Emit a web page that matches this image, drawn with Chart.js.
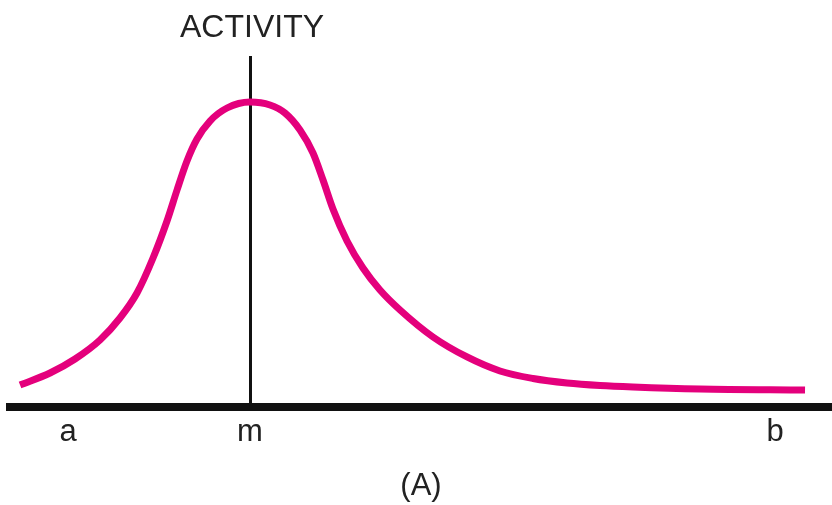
<!DOCTYPE html>
<html>
<head>
<meta charset="utf-8">
<script src="https://cdn.jsdelivr.net/npm/chart.js@4/dist/chart.umd.min.js"></script>
<style>
    html, body { margin: 0; padding: 0; background: #fff; }
    #wrap { width: 832px; height: 505px; position: relative; }
</style>
</head>
<body>
<div id="wrap"><canvas id="activityChart"></canvas></div>
<script>
// curve (x: 0..100 along the axis, y: 0..100 up the axis)
const activityX = [1.22, 4.87, 7.91, 10.95, 13.38, 15.45, 17.40, 19.10, 20.32, 21.53, 22.75, 24.33, 26.40, 29.20, 31.63, 33.45, 35.28, 36.86, 38.08, 39.29, 41.00, 42.94, 45.01, 47.45, 51.46, 55.60, 59.61, 63.63, 67.76, 71.78, 75.79, 83.94, 96.72]
const activityY = [6.29, 9.71, 13.71, 19.14, 25.43, 32.57, 42.57, 53.14, 62.00, 70.29, 76.57, 81.71, 85.43, 87.14, 86.29, 84.00, 79.14, 72.57, 64.86, 56.57, 47.43, 39.71, 33.43, 27.71, 20.00, 14.29, 10.29, 8.14, 6.86, 6.14, 5.71, 5.14, 4.86]

// axis marks
const tickValues = [7.06, 29.2, 93.07]
const tickLabels = ['a', 'm', 'b']
const modeValue = 29.2

const fontFamily = '"Liberation Sans", Arial, Helvetica, sans-serif'

// "ACTIVITY" sits above the vertical line at m
const activityLabel = {
    id: 'activityLabel',
    afterDraw(chart) {
        const ctx = chart.ctx
        const x = chart.scales.x.getPixelForValue(modeValue)
        ctx.save()
        ctx.font = '32px ' + fontFamily
        ctx.fillStyle = '#222'
        ctx.textAlign = 'center'
        ctx.textBaseline = 'alphabetic'
        ctx.fillText('ACTIVITY', x + 2, 37)
        ctx.restore()
    },
}

new Chart(document.getElementById('activityChart').getContext('2d'), {
    type: 'line',
    data: {
        datasets: [
            {
                data: activityX.map((x, i) => ({ x: x, y: activityY[i] })),
                borderColor: '#e4007c',
                borderWidth: 7,
                pointRadius: 0,
                fill: false,
                cubicInterpolationMode: 'monotone',
            },
        ],
    },
    options: {
        responsive: true,
        maintainAspectRatio: false,
        animation: false,
        events: [],
        layout: { padding: { top: 57, left: 10, right: 0, bottom: 0 } },
        plugins: {
            legend: { display: false },
            tooltip: { enabled: false },
        },
        scales: {
            x: {
                type: 'linear',
                min: 0,
                max: 100,
                grid: { display: false, drawTicks: false },
                border: { display: true, color: '#111', width: 8 },
                afterBuildTicks: (axis) => {
                    axis.ticks = tickValues.map((v) => ({ value: v }))
                },
                // keep the axis line where the picture has it
                afterFit: (axis) => {
                    axis.height = 98
                },
                ticks: {
                    padding: 7,
                    color: '#222',
                    maxRotation: 0,
                    autoSkip: false,
                    font: { family: fontFamily, size: 31 },
                    callback: (value) => tickLabels[tickValues.indexOf(value)],
                },
                title: {
                    display: true,
                    text: '(A)',
                    color: '#222',
                    padding: { top: 0, bottom: 0 },
                    font: { family: fontFamily, size: 31 },
                },
            },
            y: {
                type: 'linear',
                min: 0,
                max: 100,
                position: { x: modeValue },
                grid: { display: false, drawTicks: false },
                border: { display: true, color: '#111', width: 3 },
                ticks: { display: false },
            },
        },
    },
    plugins: [activityLabel],
})
</script>
</body>
</html>
